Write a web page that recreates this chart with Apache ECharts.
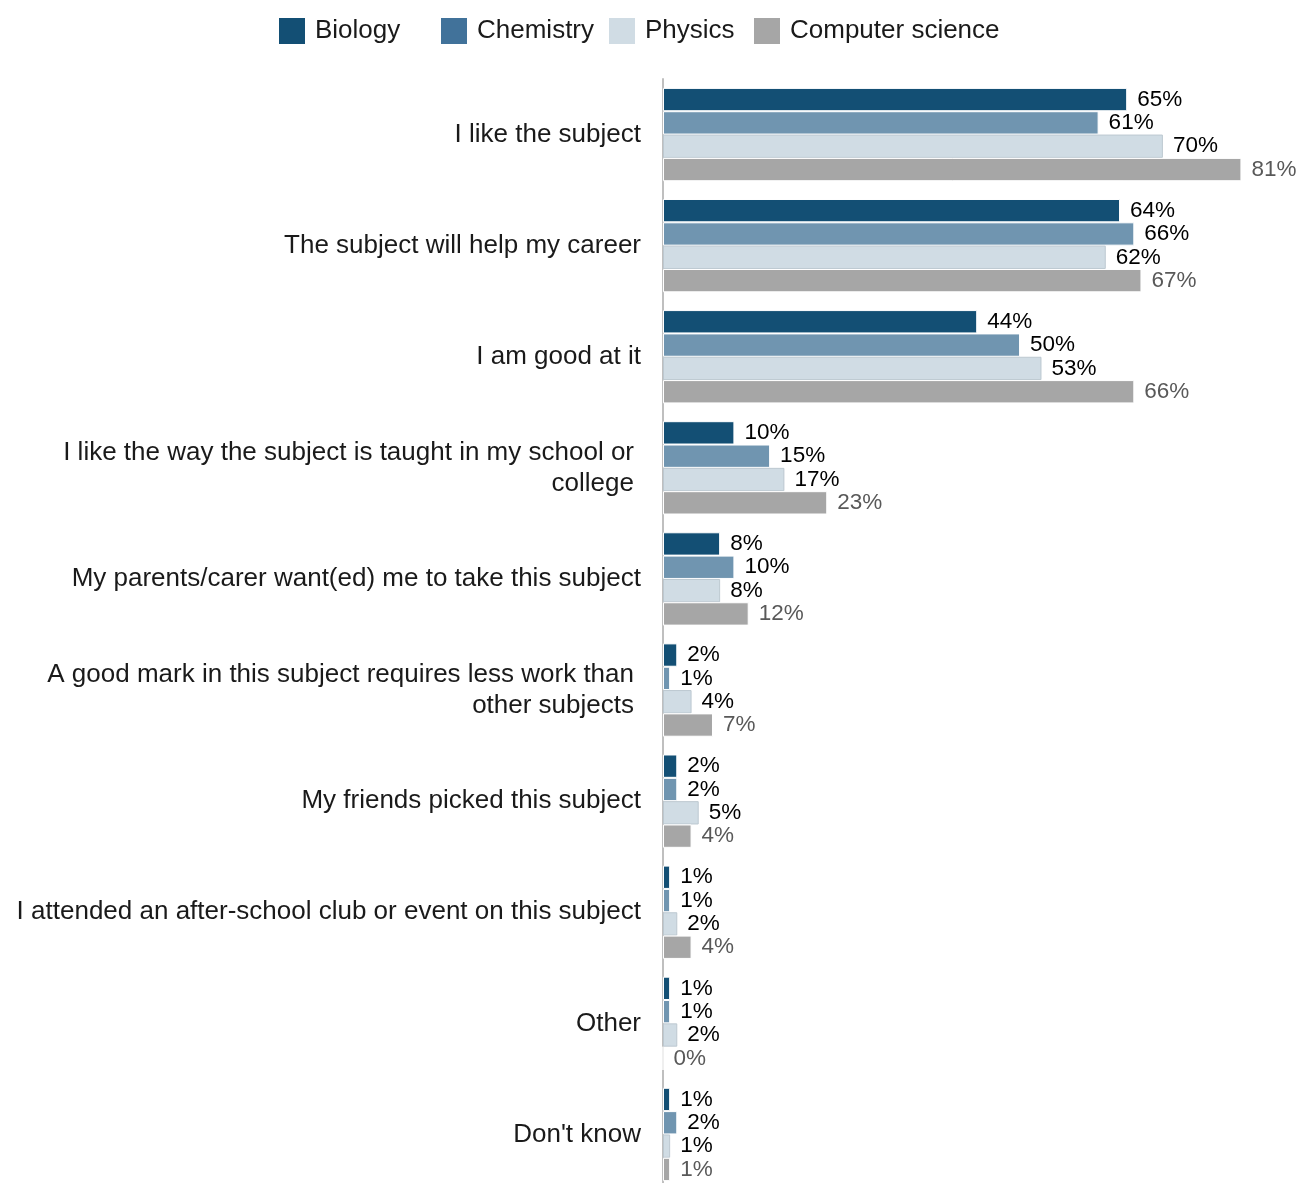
<!DOCTYPE html>
<html>
<head>
<meta charset="utf-8">
<title>Reasons for choosing subject</title>
<script src="https://cdn.jsdelivr.net/npm/echarts@6/dist/echarts.min.js"></script>
<style>
  html, body { margin: 0; padding: 0; background: #fff; }
  #chart { width: 1297px; height: 1183px; }
</style>
</head>
<body>
<div id="chart"></div>
<script>
// Reasons given, top to bottom
const categories = [
  'I like the subject',
  'The subject will help my career',
  'I am good at it',
  'I like the way the subject is taught in my school or\ncollege',
  'My parents/carer want(ed) me to take this subject',
  'A good mark in this subject requires less work than\nother subjects',
  'My friends picked this subject',
  'I attended an after-school club or event on this subject',
  'Other',
  "Don't know"
];

// Percentage of students giving each reason, by subject
const biology          = [65, 64, 44, 10, 8, 2, 2, 1, 1, 1];
const chemistry        = [61, 66, 50, 15, 10, 1, 2, 1, 1, 2];
const physics          = [70, 62, 53, 17, 8, 4, 5, 2, 2, 1];
const computerScience  = [81, 67, 66, 23, 12, 7, 4, 4, 0, 1];

const seriesDefs = [
  { name: 'Biology',          data: biology,         color: '#134f74', legendColor: '#134f74', labelColor: '#000000', border: '#ffffff', legendLeft: 279 },
  { name: 'Chemistry',        data: chemistry,       color: '#7095b0', legendColor: '#41729a', labelColor: '#000000', border: '#ffffff', legendLeft: 441 },
  { name: 'Physics',          data: physics,         color: '#d0dce4', legendColor: '#d0dce4', labelColor: '#000000', border: '#bcc8d0', legendLeft: 609 },
  { name: 'Computer science', data: computerScience, color: '#a6a6a6', legendColor: '#a6a6a6', labelColor: '#595959', border: '#ffffff', legendLeft: 754 }
];

const FONT = '"Liberation Sans", Arial, sans-serif';

const chart = echarts.init(document.getElementById('chart'), null, { renderer: 'canvas' });

// One legend entry per subject so each sits at its own spot in the header row
const legends = seriesDefs.map(s => ({
  left: s.legendLeft,
  top: 18,
  padding: 0,
  itemWidth: 26,
  itemHeight: 26,
  icon: 'rect',
  selectedMode: false,
  textStyle: { fontFamily: FONT, fontSize: 26, color: '#1a1a1a', padding: [0, 0, 0, 5] },
  data: [{ name: s.name, itemStyle: { color: s.legendColor, borderWidth: 0 } }]
}));

chart.setOption({
  animation: false,
  backgroundColor: '#ffffff',
  legend: legends,
  grid: { left: 663, top: 79, width: 607, height: 1111, containLabel: false, outerBoundsMode: 'none' },
  xAxis: {
    type: 'value',
    min: 0,
    max: 85,
    show: false
  },
  yAxis: {
    type: 'category',
    data: categories,
    inverse: true,
    axisLine: { show: true, lineStyle: { color: '#bfbfbf', width: 2 } },
    axisTick: { show: false },
    splitLine: { show: false },
    axisLabel: {
      margin: 22,
      fontFamily: FONT,
      fontSize: 26,
      color: '#1a1a1a',
      align: 'right',
      lineHeight: 31,
      // two-line labels sit a little further in from the axis
      formatter: v => v.indexOf('\n') >= 0
        ? v.split('\n').map(line => '{w|' + line + '}').join('\n')
        : v,
      rich: {
        w: { fontFamily: FONT, fontSize: 26, color: '#1a1a1a', lineHeight: 31, padding: [0, 7, 0, 0] }
      }
    }
  },
  series: seriesDefs.map(s => ({
    name: s.name,
    type: 'bar',
    data: s.data,
    barGap: '0%',
    barCategoryGap: '16%',
    itemStyle: { color: s.color, borderColor: s.border, borderWidth: 1 },
    label: {
      show: true,
      position: 'right',
      distance: 10,
      formatter: p => p.value + '%',
      fontFamily: FONT,
      fontSize: 22.5,
      color: s.labelColor
    }
  }))
});
</script>
</body>
</html>
